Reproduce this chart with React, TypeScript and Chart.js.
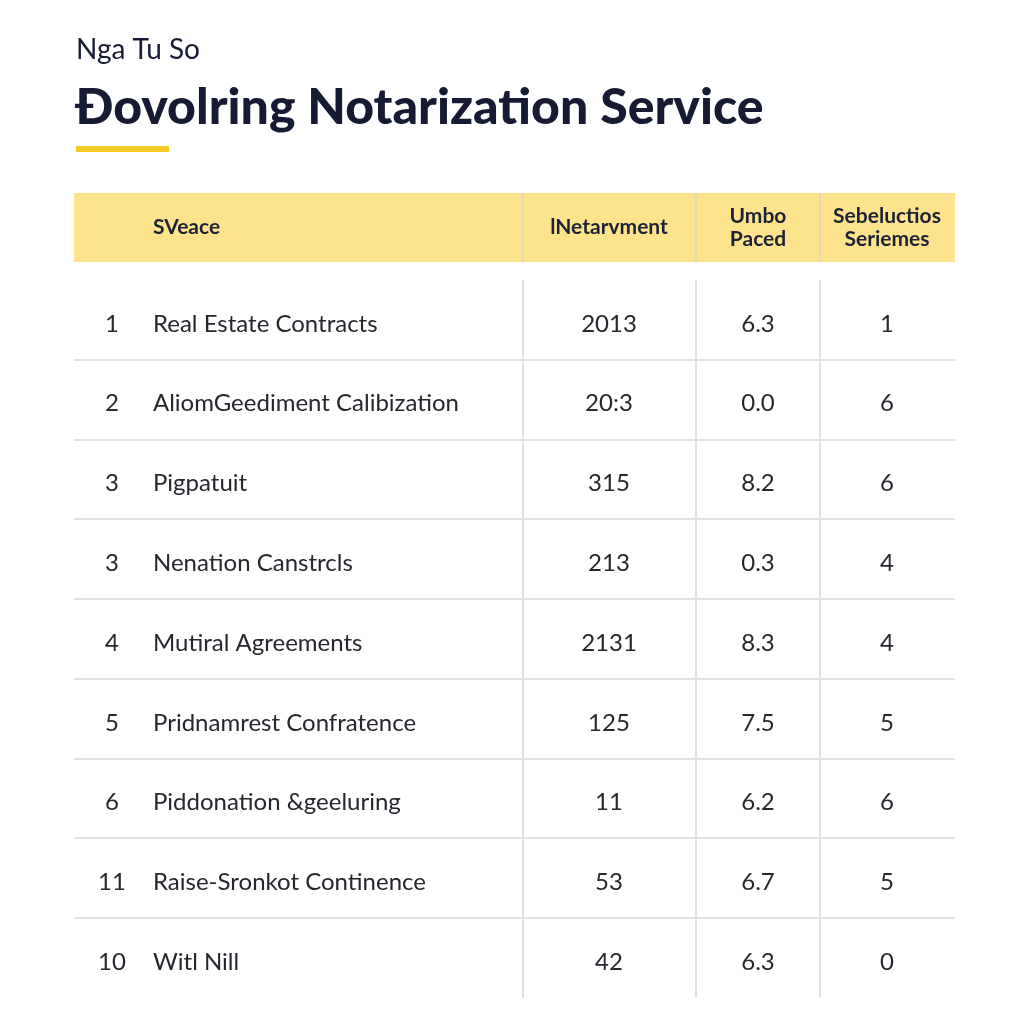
import React, { useEffect, useRef } from "react";
import { Chart, registerables } from "chart.js";

Chart.register(...registerables);

// ---- data ----
const SUBTITLE = "Nga Tu So";
const TITLE = "Đovolring Notarization Service";
const HEADERS = [["SVeace"], ["lNetarvment"], ["Umbo", "Paced"], ["Sebeluctios", "Seriemes"]];
const ranks = ["1", "2", "3", "3", "4", "5", "6", "11", "10"];
const services = [
  "Real Estate Contracts",
  "AliomGeediment Calibization",
  "Pigpatuit",
  "Nenation Canstrcls",
  "Mutiral Agreements",
  "Pridnamrest Confratence",
  "Piddonation &geeluring",
  "Raise-Sronkot Continence",
  "Witl Nill",
];
const notarvment = ["2013", "20:3", "315", "213", "2131", "125", "11", "53", "42"];
const umboPaced = [6.3, 0.0, 8.2, 0.3, 8.3, 7.5, 6.2, 6.7, 6.3];
const selections = [1, 6, 6, 4, 4, 5, 6, 5, 0];

// ---- layout (not data) ----
const COL_BOUNDS = [0, 449, 622, 746, 881];
const RANK_X = 38;
const NAME_X = 79;
const COL_CENTERS = [535, 684, 813];
const ROW_KEYS = services.map((_, i) => "r" + i);

const FONT = "Lato, 'Open Sans', sans-serif";
const DARK = "#161b33";
const TEXT = "#25272f";
const CLEAR = "rgba(0,0,0,0)";

const tablePlugin = {
  id: "tablePlugin",
  beforeDraw(chart: any) {
    const { ctx, chartArea, scales } = chart;
    const x = scales.x;
    ctx.save();
    ctx.fillStyle = "#ffffff";
    ctx.fillRect(0, 0, chart.width, chart.height);
    // titles
    ctx.fillStyle = DARK;
    ctx.textBaseline = "middle";
    ctx.textAlign = "left";
    ctx.font = `400 28px ${FONT}`;
    ctx.fillText(SUBTITLE, 76, 50);
    ctx.font = `900 50px ${FONT}`;
    ctx.fillText(TITLE, 75, 108);
    ctx.fillStyle = "#f5c823";
    ctx.fillRect(76, 146, 93, 6);
    // header band
    const hTop = chartArea.top - 87;
    const hBot = chartArea.top - 18;
    ctx.fillStyle = "#fde48c";
    ctx.fillRect(chartArea.left, hTop, chartArea.right - chartArea.left, hBot - hTop);
    ctx.strokeStyle = "rgba(222,216,196,0.9)";
    ctx.lineWidth = 2;
    for (let i = 1; i < COL_BOUNDS.length - 1; i++) {
      const px = Math.round(x.getPixelForValue(COL_BOUNDS[i]));
      ctx.beginPath();
      ctx.moveTo(px, hTop);
      ctx.lineTo(px, hBot);
      ctx.stroke();
    }
    ctx.fillStyle = "#1d2136";
    ctx.font = `700 21px ${FONT}`;
    const hMid = (hTop + hBot) / 2;
    ctx.textAlign = "left";
    ctx.fillText(HEADERS[0][0], x.getPixelForValue(NAME_X), hMid);
    ctx.textAlign = "center";
    for (let c = 1; c < HEADERS.length; c++) {
      const lines = HEADERS[c];
      const cx = x.getPixelForValue(COL_CENTERS[c - 1]);
      lines.forEach((ln, k) => {
        const yy = hMid + (k - (lines.length - 1) / 2) * 23;
        ctx.fillText(ln, cx, yy);
      });
    }
    ctx.restore();
  },
  afterDraw(chart: any) {
    const { ctx, scales } = chart;
    const x = scales.x;
    const y = scales.y;
    ctx.save();
    ctx.fillStyle = TEXT;
    ctx.textBaseline = "middle";
    ctx.font = `400 24px ${FONT}`;
    services.forEach((name, i) => {
      const py = y.getPixelForValue(i) + 4;
      ctx.textAlign = "center";
      ctx.fillText(ranks[i], x.getPixelForValue(RANK_X), py);
      ctx.textAlign = "left";
      ctx.fillText(name, x.getPixelForValue(NAME_X), py);
      ctx.textAlign = "center";
      ctx.fillText(notarvment[i], x.getPixelForValue(COL_CENTERS[0]), py);
      ctx.fillText(umboPaced[i].toFixed(1), x.getPixelForValue(COL_CENTERS[1]), py);
      ctx.fillText(String(selections[i]), x.getPixelForValue(COL_CENTERS[2]), py);
    });
    ctx.restore();
  },
};

export default function App() {
  const ref = useRef<HTMLCanvasElement>(null);
  useEffect(() => {
    if (!ref.current) return;
    const chart = new Chart(ref.current, {
      type: "scatter",
      data: { labels: ROW_KEYS, datasets: [] },
      options: {
        animation: false,
        responsive: false,
        devicePixelRatio: 1,
        layout: { padding: { top: 280, left: 74, right: 69, bottom: 26 } },
        plugins: { legend: { display: false }, tooltip: { enabled: false }, title: { display: false } },
        scales: {
          x: {
            type: "linear",
            min: COL_BOUNDS[0],
            max: COL_BOUNDS[COL_BOUNDS.length - 1],
            afterBuildTicks: (s: any) => {
              s.ticks = COL_BOUNDS.map((v) => ({ value: v }));
            },
            afterFit: (s: any) => {
              s.height = 0;
            },
            ticks: { display: false },
            border: { display: false },
            grid: {
              drawTicks: false,
              lineWidth: 2,
              color: (c: any) =>
                c.type !== "tick" || c.index === 0 || c.index === COL_BOUNDS.length - 1 ? CLEAR : "#e2e2e2",
            },
          },
          y: {
            type: "category",
            labels: ROW_KEYS,
            offset: true,
            afterFit: (s: any) => {
              s.width = 0;
            },
            ticks: { display: false },
            border: { display: false },
            grid: {
              offset: true,
              drawTicks: false,
              lineWidth: 2,
              color: (c: any) =>
                c.type !== "tick" || c.index === 0 || c.index >= ROW_KEYS.length ? CLEAR : "#e2e2e2",
            },
          },
        },
      },
      plugins: [tablePlugin],
    });
    return () => chart.destroy();
  }, []);
  return (
    <div style={{ position: "fixed", left: 0, top: 0, width: 1024, height: 1024, background: "#fff" }}>
      <canvas ref={ref} width={1024} height={1024} style={{ width: 1024, height: 1024 }} />
    </div>
  );
}
